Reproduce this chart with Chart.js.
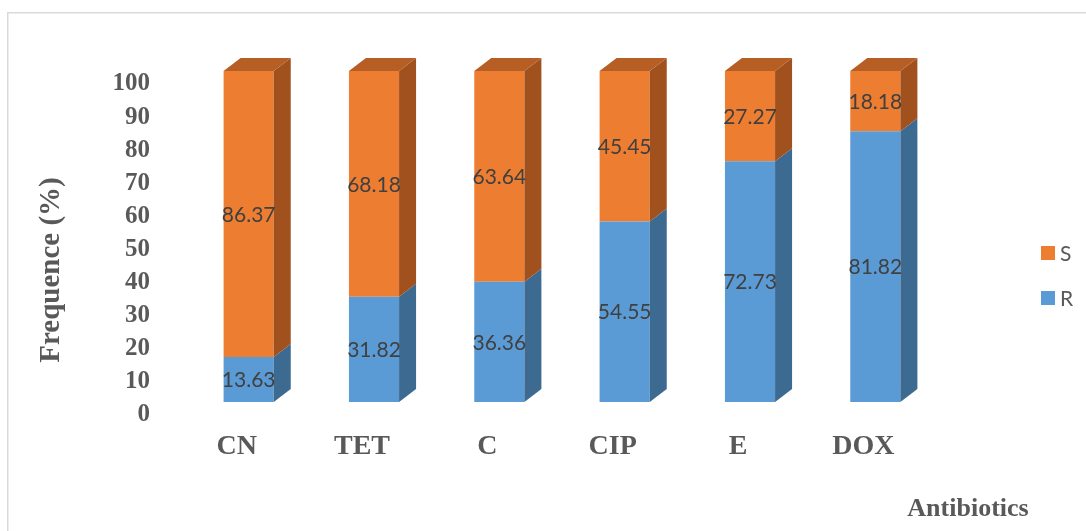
<!DOCTYPE html>
<html>
<head>
<meta charset="utf-8">
<script src="https://cdn.jsdelivr.net/npm/chart.js@4"></script>
<style>
  body { margin: 0; background: #fff; }
</style>
</head>
<body>
<canvas id="graph" width="1086" height="531"></canvas>
<script>
let categorias = ["CN", "TET", "C", "CIP", "E", "DOX"];
let valoresR = [13.63, 31.82, 36.36, 54.55, 72.73, 81.82];
let valoresS = [86.37, 68.18, 63.64, 45.45, 27.27, 18.18];
let series = ["R", "S"];
let ticksY = [0, 10, 20, 30, 40, 50, 60, 70, 80, 90, 100];

const gris = '#595959';
const serif = '"Liberation Serif", "Times New Roman", serif';
const sans = 'Lato, "Open Sans", sans-serif';
const dx = 17, dy = 13; // profundidad del efecto 3D

// caras laterales y superior, etiquetas de valores
const caras3D = {
    id: 'caras3D',
    afterDatasetsDraw(chart) {
        const ctx = chart.ctx;
        const n = chart.data.datasets.length;
        ctx.save();
        chart.data.datasets.forEach((ds, i) => {
            const meta = chart.getDatasetMeta(i);
            meta.data.forEach((bar) => {
                const left = bar.x - bar.width / 2;
                const right = bar.x + bar.width / 2;
                const top = Math.min(bar.y, bar.base);
                const bottom = Math.max(bar.y, bar.base);
                ctx.fillStyle = ds.sideColor;
                ctx.beginPath();
                ctx.moveTo(right, bottom);
                ctx.lineTo(right + dx, bottom - dy);
                ctx.lineTo(right + dx, top - dy);
                ctx.lineTo(right, top);
                ctx.closePath();
                ctx.fill();
                if (i === n - 1) {
                    ctx.fillStyle = ds.topColor;
                    ctx.beginPath();
                    ctx.moveTo(left, top);
                    ctx.lineTo(left + dx, top - dy);
                    ctx.lineTo(right + dx, top - dy);
                    ctx.lineTo(right, top);
                    ctx.closePath();
                    ctx.fill();
                }
            });
        });
        // valores
        ctx.font = '21px ' + sans;
        ctx.fillStyle = '#404040';
        ctx.textAlign = 'center';
        ctx.textBaseline = 'middle';
        chart.data.datasets.forEach((ds, i) => {
            const meta = chart.getDatasetMeta(i);
            meta.data.forEach((bar, j) => {
                ctx.fillText(ds.data[j].toFixed(2), bar.x, (bar.y + bar.base) / 2 + 1);
            });
        });
        ctx.restore();
    }
};

// borde, titulos y leyenda
const extras = {
    id: 'extras',
    beforeDraw(chart) {
        const ctx = chart.ctx;
        ctx.save();
        ctx.fillStyle = '#fff';
        ctx.fillRect(0, 0, chart.width, chart.height);
        ctx.fillStyle = '#D9D9D9';
        ctx.fillRect(7, 12, chart.width - 7, 1.5);
        ctx.fillRect(7, 12, 1.5, chart.height - 12);
        ctx.restore();
    },
    afterDraw(chart) {
        const ctx = chart.ctx;
        ctx.save();
        ctx.fillStyle = gris;
        ctx.font = 'bold 29px ' + serif;
        ctx.textAlign = 'center';
        ctx.textBaseline = 'alphabetic';
        ctx.translate(59, 270);
        ctx.rotate(-Math.PI / 2);
        ctx.fillText('Frequence (%)', 0, 0);
        ctx.restore();

        ctx.save();
        ctx.fillStyle = gris;
        ctx.font = 'bold 26px ' + serif;
        ctx.textAlign = 'center';
        ctx.textBaseline = 'alphabetic';
        ctx.fillText('Antibiotics', 968, 516);

        // leyenda (S arriba, R abajo)
        const items = chart.data.datasets.slice().reverse();
        ctx.font = '21px ' + sans;
        ctx.textAlign = 'left';
        ctx.textBaseline = 'middle';
        items.forEach((ds, k) => {
            const cy = 253 + k * 45;
            ctx.fillStyle = ds.backgroundColor;
            ctx.fillRect(1041, cy - 7, 14, 14);
            ctx.fillStyle = gris;
            ctx.fillText(ds.label, 1060, cy + 1);
        });
        ctx.restore();
    }
};

const data = {
    labels: categorias,
    datasets: [
        {
            label: series[0],
            data: valoresR,
            backgroundColor: '#5B9BD5',
            sideColor: '#3D6A91',
            topColor: '#4A80B0'
        },
        {
            label: series[1],
            data: valoresS,
            backgroundColor: '#ED7D31',
            sideColor: '#A0511E',
            topColor: '#B65E23'
        }
    ]
};

const config = {
    type: 'bar',
    data: data,
    options: {
        responsive: false,
        animation: false,
        devicePixelRatio: 1,
        layout: { padding: { left: 0, top: 71, right: 148, bottom: 0 } },
        datasets: { bar: { barPercentage: 0.4, categoryPercentage: 1 } },
        plugins: { legend: { display: false }, tooltip: { enabled: false } },
        scales: {
            x: {
                stacked: true,
                grid: { display: false, drawTicks: false },
                border: { display: false },
                ticks: {
                    color: gris,
                    font: { family: serif, size: 28, weight: 'bold' },
                    padding: 28,
                    labelOffset: -12
                },
                afterFit(scale) { scale.height = 129; }
            },
            y: {
                stacked: true,
                min: ticksY[0],
                max: ticksY[ticksY.length - 1],
                grid: { display: false, drawTicks: false },
                border: { display: false },
                afterBuildTicks(scale) { scale.ticks = ticksY.map(v => ({ value: v })); },
                ticks: {
                    color: gris,
                    font: { family: serif, size: 25, weight: 'bold' },
                    padding: 36,
                    labelOffset: 13
                },
                afterFit(scale) { scale.width = 186; }
            }
        }
    },
    plugins: [caras3D, extras]
};

new Chart(document.getElementById('graph'), config);
</script>
</body>
</html>
